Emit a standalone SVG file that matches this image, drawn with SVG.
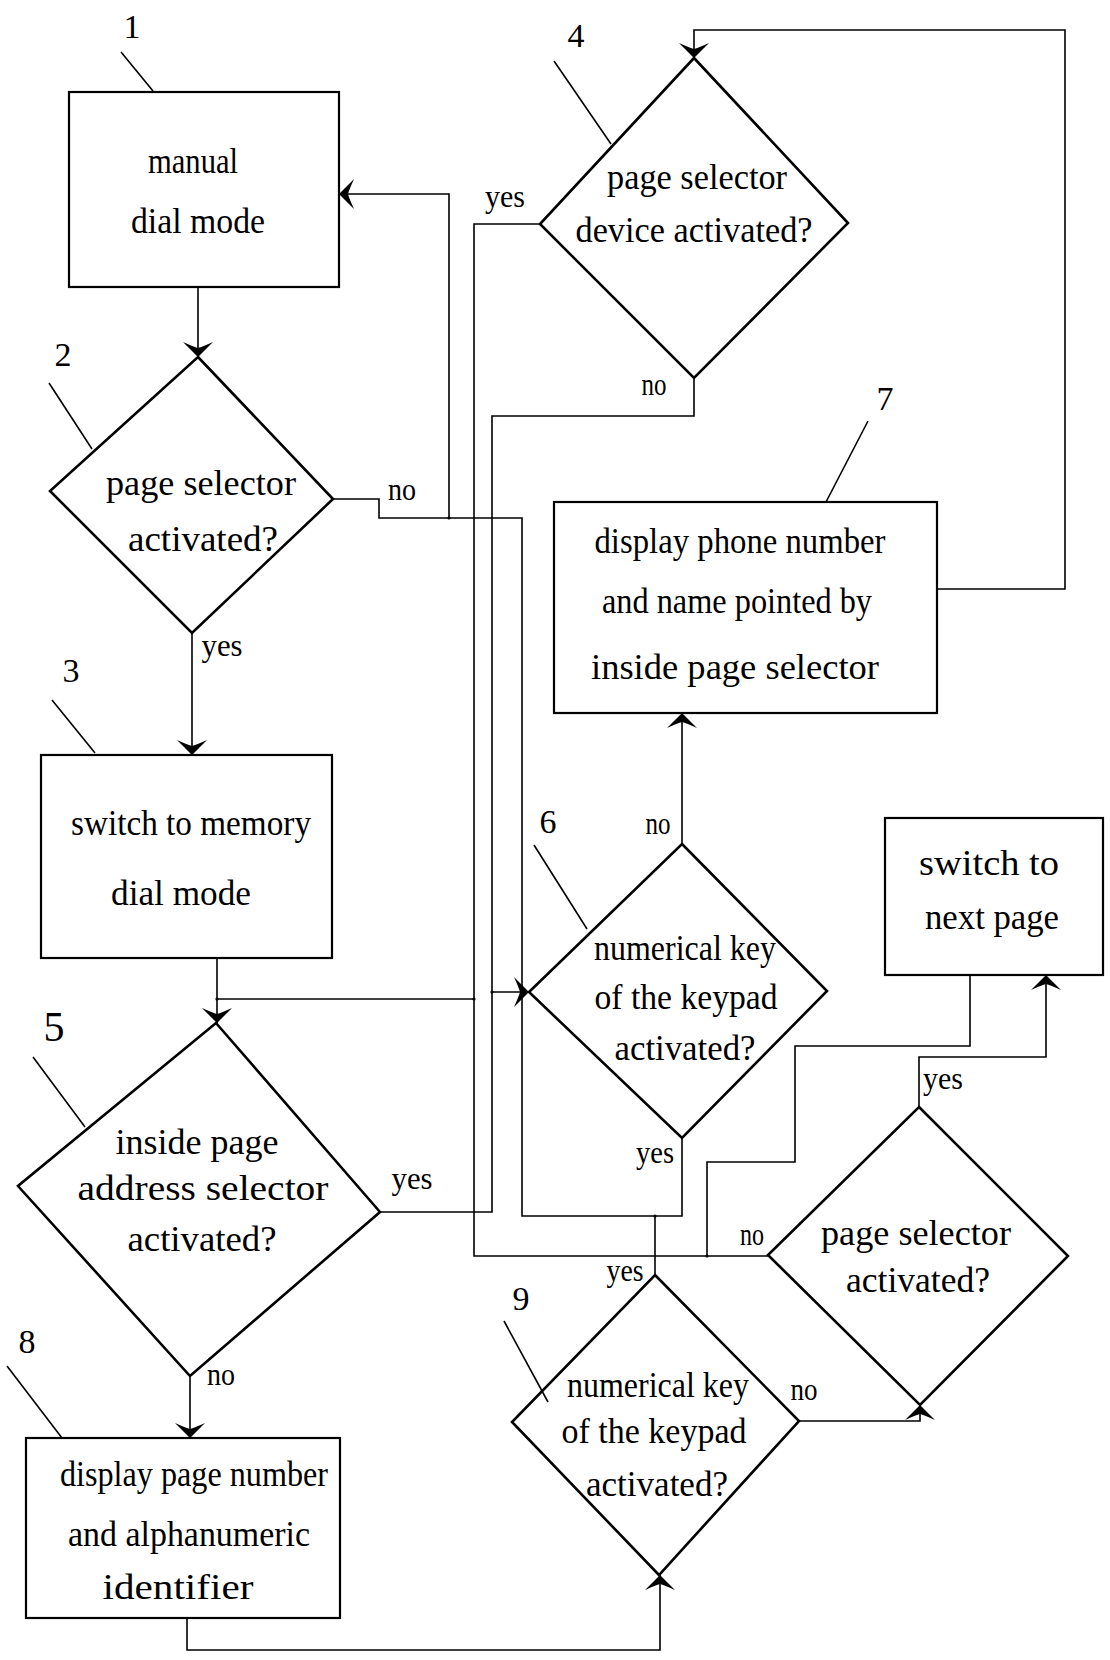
<svg xmlns="http://www.w3.org/2000/svg" width="1110" height="1660" viewBox="0 0 1110 1660">
<style>
.box{fill:none;stroke:#000;stroke-width:2.2}
.dia{fill:none;stroke:#000;stroke-width:2.6;stroke-linejoin:miter}
.ln{fill:none;stroke:#000;stroke-width:1.6}
.ld{fill:none;stroke:#000;stroke-width:1.6}
.t{font-family:"Liberation Serif","DejaVu Serif",serif;font-size:36px;fill:#000;text-anchor:middle}
.s{font-family:"Liberation Serif","DejaVu Serif",serif;font-size:32px;fill:#000;text-anchor:middle}
.n{font-family:"Liberation Serif","DejaVu Serif",serif;font-size:34px;fill:#000;text-anchor:middle}
</style>
<defs>
<marker id="ah" viewBox="-17 -16 19 32" refX="0" refY="0" markerWidth="19" markerHeight="32" markerUnits="userSpaceOnUse" orient="auto">
<path d="M0,0 L-15,-15 Q-10,-4 -9,0 Q-10,4 -15,15 Z" fill="#000"/>
</marker>
</defs>

<g id="connectors">
<path class="ln" d="M198,287 V357" marker-end="url(#ah)"/>
<path class="ln" d="M192,633 V755" marker-end="url(#ah)"/>
<path class="ln" d="M333,499 H379 V518 H522 V1216 H682 V1138"/>
<path class="ln" d="M449,518 V194 H339" marker-end="url(#ah)"/>
<path class="ln" d="M655,1275 V1216"/>
<path class="ln" d="M540,224 H474 V1256 H768"/>
<path class="ln" d="M217,958 V1023" marker-end="url(#ah)"/>
<path class="ln" d="M217,999 H474"/>
<path class="ln" d="M694,378 V416 H492 V1212 H380"/>
<path class="ln" d="M492,992 H529" marker-end="url(#ah)"/>
<path class="ln" d="M682,844 V713" marker-end="url(#ah)"/>
<path class="ln" d="M937,589 H1065 V30 H694 V58" marker-end="url(#ah)"/>
<path class="ln" d="M970,975 V1046 H795 V1162 H707 V1256"/>
<path class="ln" d="M919,1107 V1057 H1046 V975" marker-end="url(#ah)"/>
<path class="ln" d="M799,1421 H920 V1405" marker-end="url(#ah)"/>
<path class="ln" d="M190,1376 V1438" marker-end="url(#ah)"/>
<path class="ln" d="M187,1618 V1650 H660 V1575" marker-end="url(#ah)"/>
<g fill="#000">
<circle cx="449" cy="518" r="1.6"/>
<circle cx="217" cy="999" r="1.6"/>
<circle cx="474" cy="999" r="1.6"/>
<circle cx="492" cy="992" r="1.6"/>
<circle cx="655" cy="1216" r="1.6"/>
<circle cx="707" cy="1256" r="1.6"/>
</g>
</g>

<g id="n1">
<rect class="box" x="69" y="92" width="270" height="195"/>
<text class="t" x="193" y="173" textLength="90" lengthAdjust="spacingAndGlyphs">manual</text>
<text class="t" x="198" y="233" textLength="134" lengthAdjust="spacingAndGlyphs">dial mode</text>
<line class="ld" x1="121" y1="52" x2="153" y2="91"/>
<text class="n" x="132" y="38">1</text>
</g>

<g id="n2">
<polygon class="dia" points="198,357 333,499 192,633 50,491"/>
<text class="t" x="201" y="495" textLength="190" lengthAdjust="spacingAndGlyphs">page selector</text>
<text class="t" x="203" y="551" textLength="150" lengthAdjust="spacingAndGlyphs">activated?</text>
<line class="ld" x1="49" y1="383" x2="92" y2="449"/>
<text class="n" x="63" y="366">2</text>
<text class="s" x="222" y="656" textLength="41" lengthAdjust="spacingAndGlyphs">yes</text>
<text class="s" x="402" y="500" textLength="28" lengthAdjust="spacingAndGlyphs">no</text>
</g>

<g id="n3">
<rect class="box" x="41" y="755" width="291" height="203"/>
<text class="t" x="191" y="835" textLength="240" lengthAdjust="spacingAndGlyphs">switch to memory</text>
<text class="t" x="181" y="905" textLength="140" lengthAdjust="spacingAndGlyphs">dial mode</text>
<line class="ld" x1="52" y1="700" x2="95" y2="753"/>
<text class="n" x="71" y="682">3</text>
</g>

<g id="n4">
<polygon class="dia" points="694,58 848,223 694,378 540,224"/>
<text class="t" x="697" y="189" textLength="180" lengthAdjust="spacingAndGlyphs">page selector</text>
<text class="t" x="694" y="242" textLength="237" lengthAdjust="spacingAndGlyphs">device activated?</text>
<line class="ld" x1="554" y1="61" x2="611" y2="144"/>
<text class="n" x="576" y="47">4</text>
<text class="s" x="505" y="207" textLength="40" lengthAdjust="spacingAndGlyphs">yes</text>
<text class="s" x="654" y="395" textLength="25" lengthAdjust="spacingAndGlyphs">no</text>
</g>

<g id="n5">
<polygon class="dia" points="216,1023 380,1212 190,1376 18,1186"/>
<text class="t" x="197" y="1154" textLength="163" lengthAdjust="spacingAndGlyphs">inside page</text>
<text class="t" x="203" y="1200" textLength="251" lengthAdjust="spacingAndGlyphs">address selector</text>
<text class="t" x="202" y="1251" textLength="149" lengthAdjust="spacingAndGlyphs">activated?</text>
<line class="ld" x1="33" y1="1057" x2="85" y2="1127"/>
<text class="n" x="54" y="1041" style="font-size:42px">5</text>
<text class="s" x="412" y="1189" textLength="41" lengthAdjust="spacingAndGlyphs">yes</text>
<text class="s" x="221" y="1385" textLength="28" lengthAdjust="spacingAndGlyphs">no</text>
</g>

<g id="n6">
<polygon class="dia" points="682,844 827,991 682,1138 529,992"/>
<text class="t" x="685" y="960" textLength="182" lengthAdjust="spacingAndGlyphs">numerical key</text>
<text class="t" x="686" y="1009" textLength="183" lengthAdjust="spacingAndGlyphs">of the keypad</text>
<text class="t" x="685" y="1060" textLength="141" lengthAdjust="spacingAndGlyphs">activated?</text>
<line class="ld" x1="534" y1="845" x2="587" y2="929"/>
<text class="n" x="548" y="833">6</text>
<text class="s" x="658" y="834" textLength="25" lengthAdjust="spacingAndGlyphs">no</text>
<text class="s" x="655" y="1163" textLength="38" lengthAdjust="spacingAndGlyphs">yes</text>
</g>

<g id="n7">
<rect class="box" x="554" y="502" width="383" height="211"/>
<text class="t" x="740" y="553" textLength="291" lengthAdjust="spacingAndGlyphs">display phone number</text>
<text class="t" x="737" y="613" textLength="270" lengthAdjust="spacingAndGlyphs">and name pointed by</text>
<text class="t" x="735" y="679" textLength="288" lengthAdjust="spacingAndGlyphs">inside page selector</text>
<line class="ld" x1="868" y1="421" x2="826" y2="502"/>
<text class="n" x="885" y="410">7</text>
</g>

<g id="n8">
<rect class="box" x="26" y="1438" width="314" height="180"/>
<text class="t" x="194" y="1486" textLength="268" lengthAdjust="spacingAndGlyphs">display page number</text>
<text class="t" x="189" y="1546" textLength="242" lengthAdjust="spacingAndGlyphs">and alphanumeric</text>
<text class="t" x="178" y="1599" textLength="151" lengthAdjust="spacingAndGlyphs">identifier</text>
<line class="ld" x1="7" y1="1366" x2="62" y2="1438"/>
<text class="n" x="27" y="1353">8</text>
</g>

<g id="n9">
<polygon class="dia" points="655,1275 799,1421 659,1575 512,1422"/>
<text class="t" x="658" y="1397" textLength="182" lengthAdjust="spacingAndGlyphs">numerical key</text>
<text class="t" x="654" y="1443" textLength="185" lengthAdjust="spacingAndGlyphs">of the keypad</text>
<text class="t" x="657" y="1496" textLength="142" lengthAdjust="spacingAndGlyphs">activated?</text>
<line class="ld" x1="504" y1="1321" x2="548" y2="1402"/>
<text class="n" x="521" y="1310">9</text>
<text class="s" x="625" y="1281" textLength="37" lengthAdjust="spacingAndGlyphs">yes</text>
<text class="s" x="804" y="1400" textLength="27" lengthAdjust="spacingAndGlyphs">no</text>
</g>

<g id="n10">
<polygon class="dia" points="919,1107 1068,1256 920,1405 768,1255"/>
<text class="t" x="916" y="1245" textLength="190" lengthAdjust="spacingAndGlyphs">page selector</text>
<text class="t" x="918" y="1292" textLength="144" lengthAdjust="spacingAndGlyphs">activated?</text>
<text class="s" x="943" y="1089" textLength="40" lengthAdjust="spacingAndGlyphs">yes</text>
<text class="s" x="752" y="1245" textLength="24" lengthAdjust="spacingAndGlyphs">no</text>
</g>

<g id="n11">
<rect class="box" x="885" y="818" width="218" height="157"/>
<text class="t" x="989" y="875" textLength="140" lengthAdjust="spacingAndGlyphs">switch to</text>
<text class="t" x="992" y="929" textLength="134" lengthAdjust="spacingAndGlyphs">next page</text>
</g>
</svg>
